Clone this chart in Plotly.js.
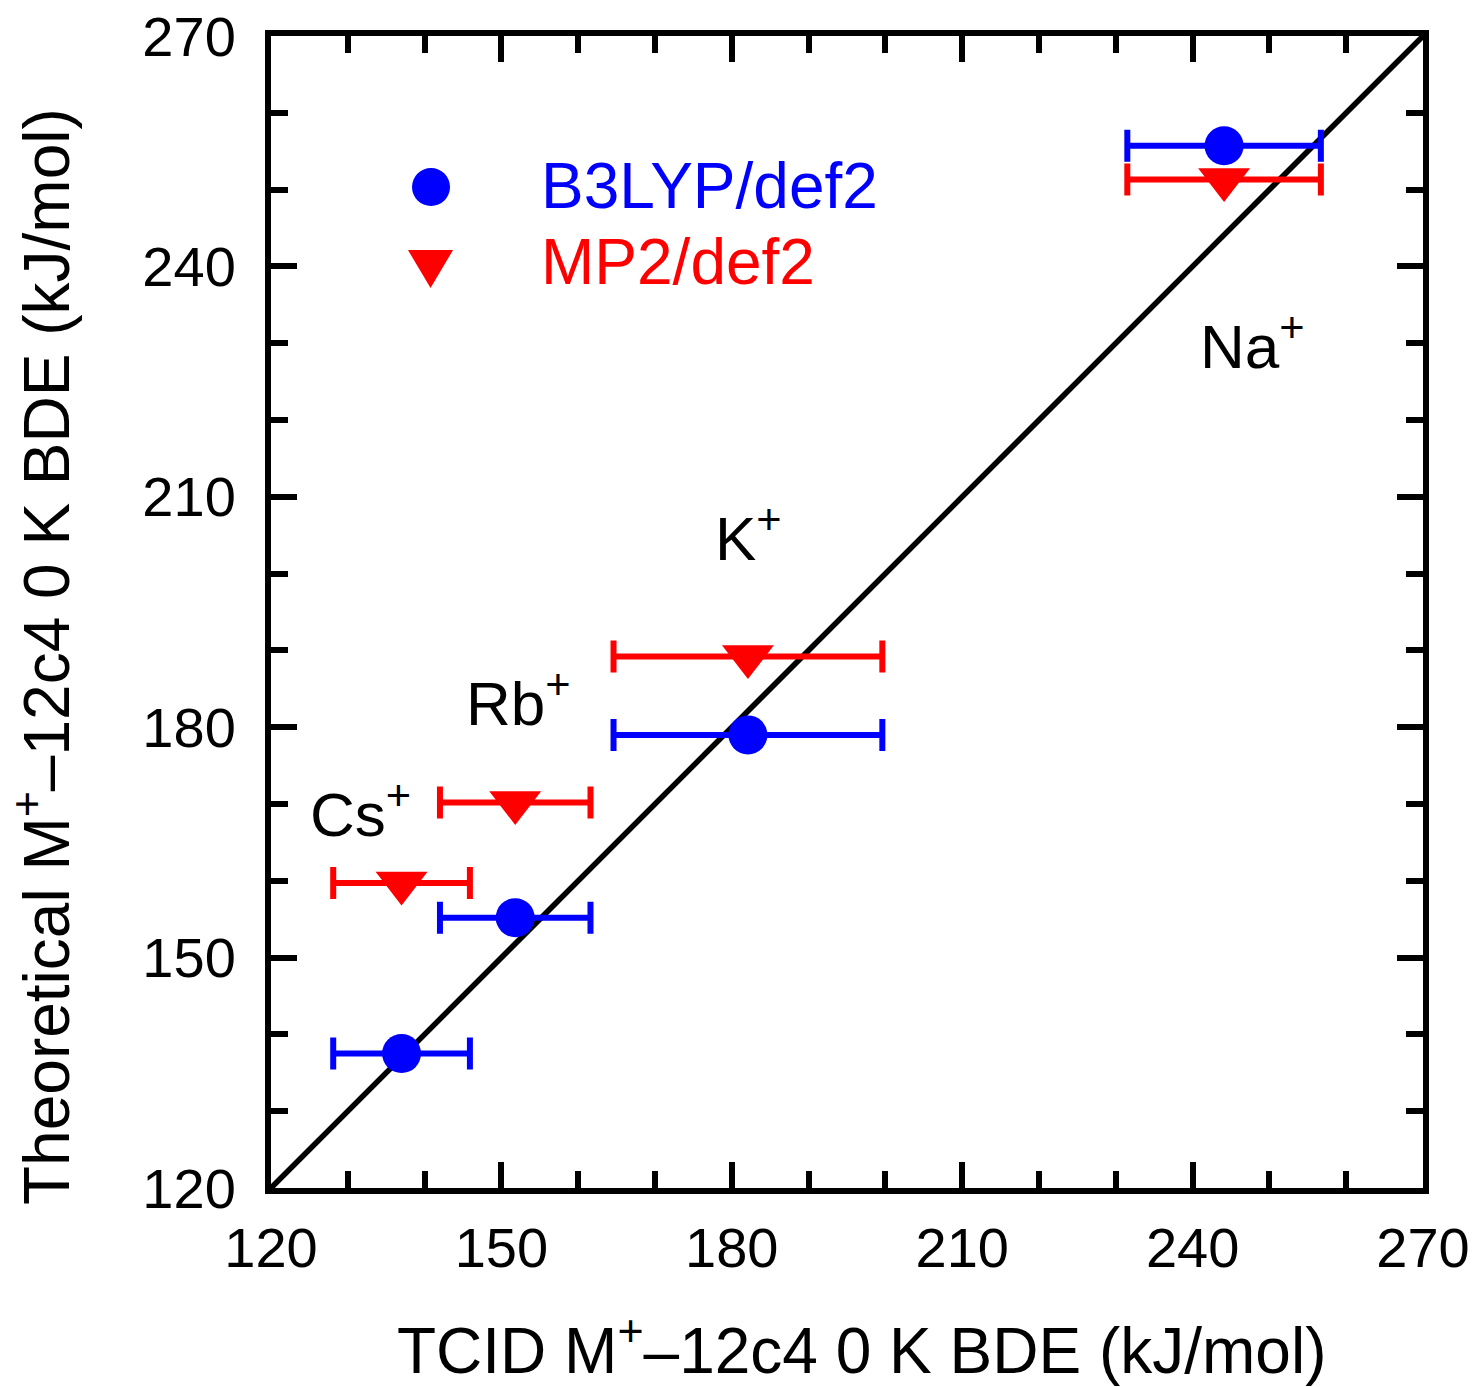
<!DOCTYPE html>
<html>
<head>
<meta charset="utf-8">
<script src="https://cdn.plot.ly/plotly-3.0.1.min.js"></script>
<style>html,body{margin:0;padding:0;background:#fff}#plot{width:1477px;height:1387px}</style>
</head>
<body>
<div id="plot"></div>
<script>
// ---- data ----
const ions = ['Na<sup>+</sup>', 'K<sup>+</sup>', 'Rb<sup>+</sup>', 'Cs<sup>+</sup>'];
const tcid = [244.1, 182.1, 151.8, 137.0];
const tcidErr = [12.6, 17.5, 9.8, 8.9];
const b3lyp = [255.7, 179.0, 155.2, 137.5];
const mp2 = [251.3, 189.2, 170.2, 159.7];
const diagX = [120, 270];
const diagY = [120, 270];
const tickVals = [120, 150, 180, 210, 240, 270];
// label anchor positions (data units) for ion labels
const labelX = [240.7, 177.55, 145.1, 124.8];
const labelY = [230.1, 205.2, 183.7, 169.2];

const FONT = '"Liberation Sans", Arial, Helvetica, sans-serif';

const traces = [
  {x: diagX, y: diagY, mode: 'lines', line: {color: '#000', width: 5.5}, showlegend: false, hoverinfo: 'skip'},
  {x: tcid, y: b3lyp, mode: 'markers', name: 'B3LYP/def2',
   marker: {symbol: 'circle', size: 39, color: '#0000ff'},
   error_x: {type: 'data', array: tcidErr, visible: true, color: '#0000ff', thickness: 6, width: 16}},
  {x: tcid, y: mp2, mode: 'markers', name: 'MP2/def2',
   marker: {symbol: 'triangle-down', size: 45, color: '#ff0000'},
   error_x: {type: 'data', array: tcidErr, visible: true, color: '#ff0000', thickness: 6, width: 16}}
];

const axisCommon = {
  range: [120, 270], tickvals: tickVals, ticktext: tickVals.map(String),
  ticks: 'inside', ticklen: 26, tickwidth: 6, tickcolor: '#000',
  minor: {dtick: 10, tick0: 120, ticks: 'inside', ticklen: 17, tickwidth: 6, tickcolor: '#000'},
  showline: true, linewidth: 6, linecolor: '#000', mirror: 'ticks',
  showgrid: false, zeroline: false,
  tickfont: {family: FONT, size: 56, color: '#000'}
};

const annotations = ions.map((t, i) => ({
  x: labelX[i], y: labelY[i], xref: 'x', yref: 'y', text: t, showarrow: false,
  xanchor: 'left', yanchor: 'middle', font: {family: FONT, size: 62, color: '#000'}
}));
annotations.push(
  {x: 0.2326, y: 0.8698, xref: 'paper', yref: 'paper', text: 'B3LYP/def2', showarrow: false,
   xanchor: 'left', yanchor: 'middle', font: {family: FONT, size: 64, color: '#0000ff'}},
  {x: 0.2326, y: 0.8038, xref: 'paper', yref: 'paper', text: 'MP2/def2', showarrow: false,
   xanchor: 'left', yanchor: 'middle', font: {family: FONT, size: 64, color: '#ff0000'}},
  {x: 0.5122, y: -0.137, xref: 'paper', yref: 'paper', text: 'TCID M<sup>+</sup>\u201312c4 0 K BDE (kJ/mol)',
   showarrow: false, xanchor: 'center', yanchor: 'middle', font: {family: FONT, size: 64, color: '#000'}},
  {x: -0.1988, y: 0.4618, xref: 'paper', yref: 'paper', text: 'Theoretical M<sup>+</sup>\u201312c4 0 K BDE (kJ/mol)',
   showarrow: false, textangle: -90, xanchor: 'center', yanchor: 'middle', font: {family: FONT, size: 64, color: '#000'}}
);

const xa = Object.assign({}, axisCommon, {ticklabelstandoff: 6});
const ya = Object.assign({}, axisCommon, {ticklabelstandoff: 18});

const layout = {
  width: 1477, height: 1387,
  margin: {l: 271, r: 54, t: 36, b: 199, pad: 0},
  paper_bgcolor: '#fff', plot_bgcolor: '#fff',
  showlegend: false,
  font: {family: FONT, color: '#000'},
  xaxis: xa,
  yaxis: ya,
  annotations: annotations,
  shapes: [
    {type: 'circle', xref: 'paper', yref: 'paper', x0: 0.1224, x1: 0.1554, y0: 0.8524, y1: 0.8854,
     fillcolor: '#0000ff', line: {width: 0}},
    {type: 'path', xref: 'paper', yref: 'paper', path: 'M0.1189,0.8142 L0.1580,0.8142 L0.1385,0.7813 Z',
     fillcolor: '#ff0000', line: {width: 0}}
  ]
};

Plotly.newPlot('plot', traces, layout, {displayModeBar: false, staticPlot: true});
</script>
</body>
</html>
